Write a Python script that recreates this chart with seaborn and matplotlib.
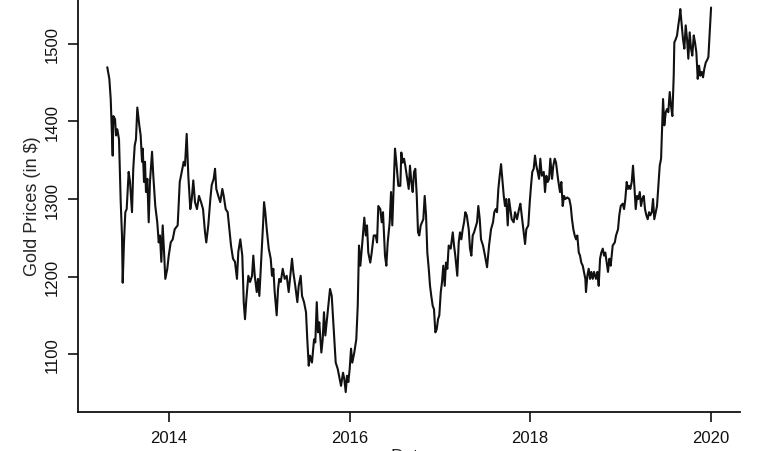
import matplotlib
matplotlib.use('Agg')
import matplotlib.pyplot as plt
import seaborn as sns
import pandas as pd

# decimal year
years = [
    2013.316, 2013.339, 2013.354, 2013.376, 2013.383, 2013.402, 2013.413, 2013.427, 2013.446, 2013.465,
    2013.479, 2013.487, 2013.501, 2013.516, 2013.531, 2013.553, 2013.568, 2013.590, 2013.604, 2013.620,
    2013.634, 2013.649, 2013.671, 2013.686, 2013.701, 2013.709, 2013.723, 2013.734, 2013.745, 2013.760,
    2013.775, 2013.789, 2013.812, 2013.826, 2013.848, 2013.870, 2013.886, 2013.900, 2013.915, 2013.930,
    2013.945, 2013.959, 2013.981, 2013.997, 2014.019, 2014.041, 2014.063,
    2014.096, 2014.119, 2014.141, 2014.163, 2014.177, 2014.196, 2014.214, 2014.236, 2014.252, 2014.269,
    2014.288, 2014.310, 2014.332, 2014.355, 2014.377, 2014.399, 2014.413, 2014.435, 2014.458, 2014.473,
    2014.495, 2014.510, 2014.524, 2014.546, 2014.568, 2014.591, 2014.606, 2014.628, 2014.650, 2014.665,
    2014.687, 2014.709, 2014.731, 2014.753, 2014.768, 2014.790, 2014.812, 2014.828, 2014.842, 2014.857,
    2014.879,
    2014.898, 2014.920, 2014.934, 2014.950, 2014.972, 2014.986, 2015.001, 2015.016, 2015.030, 2015.045,
    2015.053, 2015.067, 2015.083, 2015.105, 2015.127, 2015.141, 2015.156, 2015.171, 2015.193, 2015.208,
    2015.222, 2015.238, 2015.260, 2015.282, 2015.304, 2015.326, 2015.341, 2015.363, 2015.377, 2015.399,
    2015.422, 2015.437, 2015.459, 2015.474, 2015.496, 2015.518, 2015.532, 2015.548, 2015.562, 2015.584,
    2015.607, 2015.621, 2015.637, 2015.651, 2015.665, 2015.688, 2015.703, 2015.717, 2015.732, 2015.747,
    2015.770, 2015.784, 2015.803, 2015.825, 2015.847, 2015.869, 2015.891, 2015.906, 2015.928, 2015.942,
    2015.958, 2015.972, 2015.987, 2016.002, 2016.017, 2016.031, 2016.053, 2016.075, 2016.091, 2016.105,
    2016.120, 2016.142, 2016.164, 2016.180, 2016.194, 2016.208, 2016.230, 2016.246, 2016.268, 2016.290,
    2016.305, 2016.319, 2016.341, 2016.357, 2016.371, 2016.393, 2016.408, 2016.423, 2016.445, 2016.460,
    2016.474, 2016.490, 2016.504, 2016.519, 2016.541, 2016.563,
    2016.574, 2016.589, 2016.604, 2016.618, 2016.640, 2016.656, 2016.670, 2016.685, 2016.700, 2016.715,
    2016.729, 2016.745, 2016.759, 2016.773, 2016.789, 2016.803, 2016.818, 2016.833, 2016.848, 2016.862,
    2016.878, 2016.892, 2016.906, 2016.922, 2016.936, 2016.951, 2016.966, 2016.981, 2016.995, 2017.011,
    2017.025, 2017.039, 2017.055, 2017.069, 2017.084, 2017.099, 2017.121, 2017.144, 2017.158, 2017.172,
    2017.194, 2017.210, 2017.224, 2017.239, 2017.254, 2017.269, 2017.283, 2017.299, 2017.321, 2017.335,
    2017.350, 2017.365, 2017.380,
    2017.413, 2017.427, 2017.443, 2017.457, 2017.479, 2017.501, 2017.524, 2017.546, 2017.568, 2017.590,
    2017.604, 2017.620, 2017.634, 2017.649, 2017.664, 2017.679, 2017.693, 2017.709, 2017.723, 2017.737,
    2017.753, 2017.767, 2017.782, 2017.797, 2017.819, 2017.834, 2017.856, 2017.878, 2017.893, 2017.908,
    2017.930, 2017.945, 2017.959, 2017.981, 2017.997, 2018.011, 2018.025, 2018.041, 2018.055, 2018.070,
    2018.085, 2018.100, 2018.114, 2018.130, 2018.152, 2018.166, 2018.181, 2018.196, 2018.211, 2018.225,
    2018.244, 2018.258, 2018.274, 2018.288, 2018.310, 2018.332, 2018.347, 2018.362, 2018.377, 2018.391,
    2018.413, 2018.435, 2018.451, 2018.465, 2018.480, 2018.495, 2018.510, 2018.524, 2018.540, 2018.554,
    2018.568, 2018.584, 2018.598, 2018.613, 2018.620, 2018.635, 2018.650, 2018.665, 2018.679, 2018.695,
    2018.709, 2018.731, 2018.746, 2018.761, 2018.776, 2018.790, 2018.806, 2018.820, 2018.834, 2018.850,
    2018.864, 2018.879, 2018.894, 2018.916, 2018.939, 2018.953, 2018.975, 2018.989, 2019.005, 2019.027,
    2019.042, 2019.056, 2019.071, 2019.086, 2019.100,
    2019.111, 2019.127, 2019.141, 2019.156, 2019.171, 2019.186, 2019.200, 2019.216, 2019.230, 2019.244,
    2019.260, 2019.274, 2019.289, 2019.304, 2019.319, 2019.333, 2019.349, 2019.363, 2019.377, 2019.393,
    2019.407, 2019.422, 2019.437, 2019.452, 2019.459, 2019.474, 2019.488, 2019.504, 2019.518, 2019.532,
    2019.548, 2019.562, 2019.577, 2019.592, 2019.599, 2019.614, 2019.629, 2019.643, 2019.659, 2019.665,
    2019.681, 2019.695, 2019.710, 2019.725, 2019.740, 2019.754, 2019.769, 2019.784, 2019.798, 2019.814,
    2019.828, 2019.843, 2019.858, 2019.873, 2019.887, 2019.903, 2019.917, 2019.931, 2019.947, 2019.961,
    2019.976, 2019.991, 2020.006,
]

prices = [
    1470, 1455, 1429, 1356, 1407, 1403, 1382, 1390, 1377, 1296,
    1253, 1192, 1244, 1283, 1287, 1335, 1322, 1283, 1339, 1369,
    1377, 1418, 1395, 1382, 1348, 1365, 1322, 1348, 1309, 1326,
    1270, 1322, 1361, 1330, 1291, 1270, 1244, 1253, 1219, 1266,
    1232, 1197, 1210, 1227, 1244, 1248, 1261,
    1266, 1322, 1335, 1348, 1343, 1384, 1330, 1287, 1300, 1324,
    1296, 1287, 1304, 1296, 1287, 1257, 1244, 1266, 1300, 1318,
    1326, 1339, 1313, 1304, 1296, 1313, 1304, 1287, 1283, 1266,
    1240, 1223, 1219, 1197, 1232, 1248, 1227, 1167, 1145, 1171,
    1201,
    1193, 1201, 1227, 1201, 1180, 1197, 1175, 1210, 1240, 1274,
    1296, 1283, 1261, 1236, 1223, 1201, 1210, 1180, 1150, 1184,
    1197, 1193, 1210, 1197, 1201, 1180, 1197, 1223, 1206, 1188,
    1167, 1188, 1201, 1175, 1167, 1154, 1119, 1085, 1098, 1089,
    1119, 1115, 1167, 1128, 1141, 1102, 1119, 1154, 1124, 1141,
    1167, 1184, 1175, 1132, 1089, 1081, 1068, 1059, 1076, 1068,
    1051, 1072, 1064, 1081, 1107, 1089, 1102, 1119, 1162, 1240,
    1214, 1244, 1276, 1253, 1266, 1231, 1218, 1231, 1253, 1253,
    1244, 1291, 1287, 1270, 1283, 1227, 1214, 1244, 1270, 1309,
    1266, 1317, 1365, 1347, 1317, 1317,
    1360, 1347, 1352, 1343, 1326, 1313, 1343, 1322, 1309, 1335,
    1339, 1304, 1257, 1253, 1266, 1270, 1274, 1304, 1279, 1231,
    1210, 1188, 1175, 1162, 1158, 1128, 1132, 1145, 1150, 1180,
    1193, 1214, 1188, 1218, 1210, 1240, 1236, 1257, 1240, 1227,
    1201, 1244, 1257, 1248, 1261, 1270, 1283, 1279, 1261, 1236,
    1227, 1253, 1257,
    1270, 1291, 1274, 1248, 1240, 1227, 1212, 1240, 1261, 1270,
    1283, 1287, 1283, 1313, 1330, 1345, 1326, 1304, 1291, 1300,
    1266, 1300, 1287, 1274, 1270, 1283, 1274, 1287, 1294, 1279,
    1257, 1242, 1261, 1266, 1296, 1317, 1335, 1339, 1356, 1343,
    1335, 1326, 1352, 1330, 1335, 1309, 1330, 1322, 1326, 1352,
    1326, 1343, 1352, 1347, 1326, 1309, 1322, 1291, 1304, 1300,
    1302, 1300, 1291, 1274, 1261, 1253, 1248, 1253, 1231, 1227,
    1218, 1214, 1206, 1197, 1180, 1201, 1210, 1197, 1206, 1197,
    1206, 1197, 1206, 1188, 1223, 1231, 1236, 1227, 1231, 1218,
    1206, 1223, 1214, 1240, 1244, 1253, 1261, 1279, 1291, 1294,
    1287, 1300, 1322, 1313, 1317,
    1313, 1322, 1343, 1317, 1287, 1304, 1300, 1309, 1291, 1300,
    1304, 1287, 1279, 1274, 1283, 1279, 1283, 1300, 1274, 1283,
    1291, 1317, 1343, 1352, 1377, 1429, 1395, 1412, 1416, 1412,
    1438, 1420, 1407, 1459, 1502, 1506, 1511, 1524, 1537, 1545,
    1524, 1506, 1494, 1524, 1506, 1481, 1515, 1494, 1485, 1511,
    1502, 1489, 1455, 1472, 1459, 1464, 1457, 1468, 1476, 1479,
    1483, 1515, 1547,
]

year_ticks = [2014, 2016, 2018, 2020]
price_ticks = [1100, 1200, 1300, 1400, 1500]

df = pd.DataFrame({'Date': years, 'Price': prices})

sns.set_style('ticks')
plt.rcParams['font.family'] = ['Liberation Sans', 'DejaVu Sans']

fig = plt.figure(figsize=(7.68, 4.52), dpi=100)
ax = fig.add_axes([0.1016, 0.0863, 0.862, 0.9137])

sns.lineplot(data=df, x='Date', y='Price', color='#111111', linewidth=1.5, ax=ax)

ax.set_xlim(2012.992, 2020.327)
ax.set_ylim(1025.3, 1558)
ax.set_xticks(year_ticks)
ax.set_xticklabels([str(y) for y in year_ticks], fontsize=12)
ax.set_yticks(price_ticks)
ax.set_yticklabels([str(p) for p in price_ticks], fontsize=12, rotation=90, va='center')
ax.tick_params(axis='both', direction='out', length=7, width=1.2, colors='#111111', pad=6)

# the axis title sits partly below the bottom edge, as in the source image
ax.set_xlabel('Date', fontsize=13, labelpad=2)
ax.set_ylabel('Gold Prices (in $)', fontsize=13, labelpad=3)

sns.despine(ax=ax)
for side in ['left', 'bottom']:
    ax.spines[side].set_linewidth(1.3)
    ax.spines[side].set_color('#111111')

fig.savefig('out.png', dpi=100)
